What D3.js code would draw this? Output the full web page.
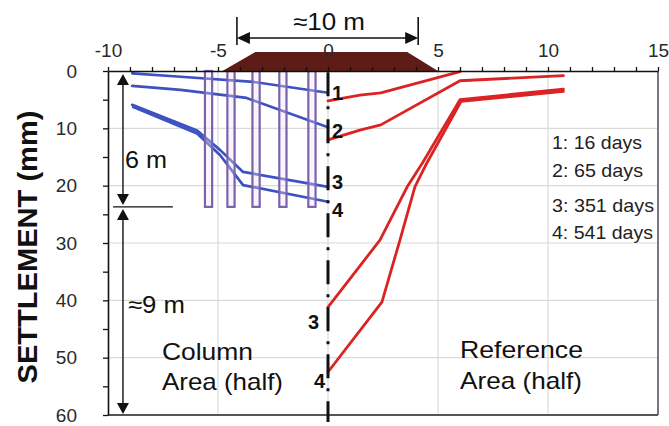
<!DOCTYPE html>
<html><head><meta charset="utf-8">
<script src="https://cdn.jsdelivr.net/npm/d3@7"></script>
<style>body{margin:0;background:#fff}svg{display:block}text{font-family:"Liberation Sans",Arial,sans-serif}</style>
</head><body><svg id="c" width="669" height="426"></svg>
<script>
// ---- data ----
const xTicks=[-10,-5,0,5,10,15];
const yTicks=[0,10,20,30,40,50,60];
const columnX=[-5.43,-4.41,-3.27,-2.05,-0.73];
const columnDepth=23.7;
const blue1=[[-8.9,0.4],[-6.7,1.0],[-3.4,1.9],[0,3.8]];
const blue2=[[-8.9,2.6],[-6.7,3.3],[-3.7,4.7],[0,9.8]];
const blue3=[[-8.9,5.9],[-5.95,10.4],[-4.9,13.8],[-3.86,17.6],[0,20.2]];
const blue4=[[-8.85,6.3],[-5.95,10.9],[-4.9,14.7],[-3.86,19.9],[0,22.8]];
const red1=[[0,5.2],[1.45,4.2],[2.4,3.8],[6.0,0.1]];
const red2=[[0,12.0],[1.45,10.3],[2.4,9.4],[6.0,1.7],[10.7,0.8]];
const red3=[[0,41.2],[2.36,29.5],[3.6,20.2],[4.3,16.0],[6.0,5.0],[10.7,3.15]];
const red4=[[0,52.5],[2.45,40.3],[3.27,29.5],[3.95,20.2],[4.5,16.0],[6.05,5.3],[10.7,3.55]];
const embankment=[[-4.8,0],[-3.3,-3.3],[3.6,-3.3],[5.0,0]];
const legendItems=["1: 16 days","2: 65 days","3: 351 days","4: 541 days"];
const curveLabelsRight=[{t:"1",y:3.8},{t:"2",y:10.5},{t:"3",y:19.3},{t:"4",y:24.2}];
const curveLabelsLeft=[{t:"3",y:43.8},{t:"4",y:54.0}];

// ---- setup ----
const svg=d3.select("#c");
const x=d3.scaleLinear().domain([-10,15]).range([108,658]);
const y=d3.scaleLinear().domain([0,60]).range([71,415]);
const line=d3.line().x(d=>x(d[0])).y(d=>y(d[1]));

function label(xp,yp,txt,size,len,extra){
  const t=svg.append("text").attr("x",xp).attr("y",yp).attr("font-size",size).attr("fill","#111").text(txt);
  if(len){t.attr("textLength",len).attr("lengthAdjust","spacingAndGlyphs");}
  if(extra) extra(t);
  return t;
}

// gridlines
svg.append("g").selectAll("line").data(xTicks.filter(v=>v>-10&&v<15)).join("line")
  .attr("x1",d=>x(d)).attr("x2",d=>x(d)).attr("y1",y(0)).attr("y2",y(60))
  .attr("stroke","#dadada").attr("stroke-width",1.2);
svg.append("g").selectAll("line").data(yTicks.filter(v=>v>0&&v<60)).join("line")
  .attr("y1",d=>y(d)).attr("y2",d=>y(d)).attr("x1",x(-10)).attr("x2",x(15))
  .attr("stroke","#dadada").attr("stroke-width",1.2);

// border right/bottom
svg.append("line").attr("x1",x(15)).attr("x2",x(15)).attr("y1",y(0)).attr("y2",y(60)).attr("stroke","#777").attr("stroke-width",2);
svg.append("line").attr("x1",x(-10)).attr("x2",x(15)).attr("y1",y(60)).attr("y2",y(60)).attr("stroke","#555").attr("stroke-width",1.8);

// blue lines
[blue1,blue2,blue3,blue4].forEach(s=>{
  svg.append("path").attr("d",line(s)).attr("fill","none").attr("stroke","#3d52c2")
    .attr("stroke-width",2.7).attr("stroke-linejoin","round").attr("stroke-linecap","round");
});
// columns
svg.append("g").selectAll("rect").data(columnX).join("rect")
  .attr("x",d=>x(d)-3.6).attr("width",7.2).attr("y",y(0)).attr("height",y(columnDepth)-y(0))
  .attr("fill","rgba(235,228,245,0.35)").attr("stroke","#7b62ad").attr("stroke-width",2.2);

// red lines
[red1,red2,red3,red4].forEach(s=>{
  svg.append("path").attr("d",line(s)).attr("fill","none").attr("stroke","#dc2324")
    .attr("stroke-width",2.8).attr("stroke-linejoin","round").attr("stroke-linecap","round");
});

// dash-dot centre line
svg.append("line").attr("x1",x(0)).attr("x2",x(0)).attr("y1",y(0.2)).attr("y2",y(61.2))
  .attr("stroke","#111").attr("stroke-width",3).attr("stroke-dasharray","24,10,3,10");

// embankment
svg.append("path").attr("d",line(embankment)+"Z").attr("fill","#5e1c16");

// axes
const topAxis=svg.append("g").attr("transform",`translate(0,${y(0)})`)
  .call(d3.axisTop(x).tickValues(d3.range(-10,16,1)).tickSize(4).tickSizeOuter(0).tickPadding(10)
    .tickFormat(d=>xTicks.includes(d)?d:""));
topAxis.select(".domain").attr("stroke","#111").attr("stroke-width",1.6);
topAxis.selectAll(".tick line").attr("stroke","#111").attr("stroke-width",1.3);
topAxis.selectAll("text").attr("font-size",19).attr("fill","#2a2a2a").style("font-family",'"Liberation Sans",Arial,sans-serif');

const leftAxis=svg.append("g").attr("transform",`translate(${x(-10)},0)`)
  .call(d3.axisLeft(y).tickValues(d3.range(0,61,5)).tickSize(5).tickSizeOuter(0).tickPadding(26)
    .tickFormat(d=>yTicks.includes(d)?d:""));
leftAxis.select(".domain").attr("stroke","#111").attr("stroke-width",1.6);
leftAxis.selectAll(".tick line").attr("stroke","#111").attr("stroke-width",1.3);
leftAxis.selectAll("text").attr("font-size",19).attr("fill","#2a2a2a").style("font-family",'"Liberation Sans",Arial,sans-serif');

// y title
svg.append("text").attr("transform","translate(37,247) rotate(-90)").attr("text-anchor","middle")
  .attr("font-size",28).attr("font-weight","bold").attr("fill","#111")
  .attr("textLength",273).attr("lengthAdjust","spacingAndGlyphs").text("SETTLEMENT (mm)");

// dimension arrow "≈10 m"
const dimL=x(-4.14), dimR=x(4.1), dimY=y(0)-33;
const ag=svg.append("g").attr("stroke","#111").attr("stroke-width",1.6);
ag.append("line").attr("x1",dimL).attr("x2",dimL).attr("y1",y(0)-54).attr("y2",y(0)-26);
ag.append("line").attr("x1",dimR).attr("x2",dimR).attr("y1",y(0)-54).attr("y2",y(0)-26);
ag.append("line").attr("x1",dimL+10).attr("x2",dimR-10).attr("y1",dimY).attr("y2",dimY);
svg.append("path").attr("d",`M${dimL},${dimY}l13,-6v12z M${dimR},${dimY}l-13,-6v12z`).attr("fill","#111");
label(293,30,"≈10 m",24,72);

// depth arrows
const dx=x(-9.32), split=y(columnDepth);
const dg=svg.append("g").attr("stroke","#111").attr("stroke-width",1.4);
dg.append("line").attr("x1",dx).attr("x2",dx).attr("y1",y(0)+10).attr("y2",split-10);
dg.append("line").attr("x1",dx).attr("x2",dx).attr("y1",split+10).attr("y2",y(60)-10);
dg.append("line").attr("x1",x(-9.77)).attr("x2",x(-7.05)).attr("y1",split).attr("y2",split);
svg.append("path").attr("fill","#111").attr("d",
  `M${dx},${y(0)+3}l-6,11h12z M${dx},${split-2}l-6,-11h12z M${dx},${split+2}l-6,11h12z M${dx},${y(60)-1}l-6,-11h12z`);
label(125,168,"6 m",24,42);
label(128,313,"≈9 m",24,57);

// area labels
label(162,360,"Column",24,91);
label(162,390,"Area (half)",24,121);
label(460,358,"Reference",24,123);
label(460,389,"Area (half)",24,122);

// legend
const legLen=[90,91,102,101], legY=[149,177,212,239];
legendItems.forEach((d,i)=>label(552,legY[i],d,18.5,legLen[i],t=>t.attr("fill","#222")));

// curve number labels
svg.append("g").selectAll("text").data(curveLabelsRight).join("text")
  .attr("x",x(0)+4).attr("y",d=>y(d.y)+7).attr("font-size",20).attr("font-weight","bold").attr("fill","#111").text(d=>d.t);
svg.append("g").selectAll("text").data(curveLabelsLeft).join("text")
  .attr("x",(d,i)=>x(0)-[9,3][i]).attr("y",d=>y(d.y)+7).attr("text-anchor","end").attr("font-size",20).attr("font-weight","bold").attr("fill","#111").text(d=>d.t);
</script></body></html>
